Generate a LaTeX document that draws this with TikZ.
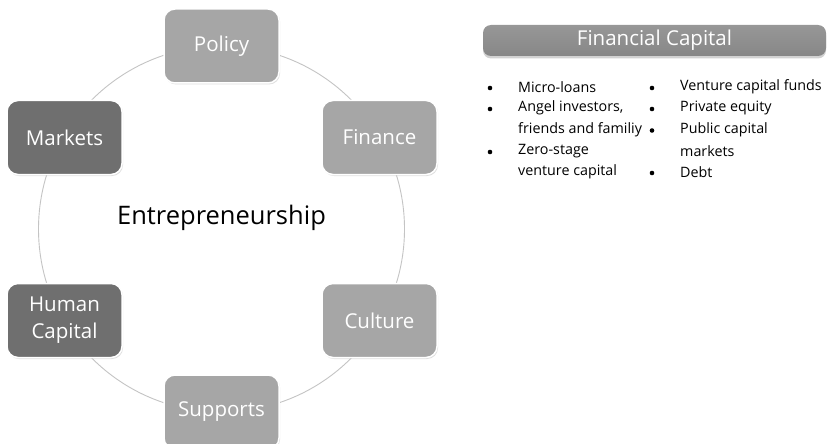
\documentclass[tikz,border=0pt]{standalone}
\usepackage{fontspec}
\setmainfont{Open Sans}
\usepackage{tikz}
\usetikzlibrary{shadows}
\usetikzlibrary{positioning}
\definecolor{lightgrey}{HTML}{A6A6A6}
\definecolor{darkgrey}{HTML}{6F6F6F}
\definecolor{ringgrey}{HTML}{C4C4C4}
\definecolor{bargrey}{HTML}{8E8E8E}
\tikzset{
    pillar/.style={rounded corners=11pt, minimum width=115pt, minimum height=74pt,
        draw=white, line width=1.5pt, text=white, align=center,
        font=\fontsize{20.5}{25}\selectfont,
        drop shadow={opacity=0.25, shadow xshift=1pt, shadow yshift=-1.5pt}},
    lightpillar/.style={pillar, fill=lightgrey},
    darkpillar/.style={pillar, fill=darkgrey},
    ring/.style={draw=ringgrey, line width=0.9pt},
    titlebar/.style={rounded corners=8pt, minimum width=343pt, minimum height=31pt,
        top color=bargrey!92!white, bottom color=bargrey!95!black, text=white,
        font=\fontsize{20.5}{24}\selectfont,
        drop shadow={opacity=0.35, shadow xshift=0pt, shadow yshift=-2.5pt}},
    item/.style={anchor=west, inner sep=0pt, font=\fontsize{14.3}{17}\selectfont},
    dot/.style={circle, fill=black, inner sep=0pt, minimum size=4.6pt}
}
\begin{document}
\begin{tikzpicture}[x=1pt,y=-1pt]
	\useasboundingbox[fill=white] (0,0) rectangle (831,444);
	\coordinate (ent) at (221.5,229);
	\draw[ring] (ent) circle (183);
	\node[font=\fontsize{25.5}{30}\selectfont] (core) at (221.5,218) {Entrepreneurship};
	\node[lightpillar] (policy) at (221.5,46) {Policy};
	\node[lightpillar] (finance) at (379.5,137.5) {Finance};
	\node[lightpillar] (culture) at (379.5,320.5) {Culture};
	\node[lightpillar] (supports) at (221.5,412) {Supports};
	\node[darkpillar] (humancap) at (64.5,320.5) {Human\\[2pt]Capital};
	\node[darkpillar] (markets) at (64.5,137.5) {Markets};
	\node[titlebar] (fincap) at (654.5,40.5) {Financial Capital};
	% first column
	\node[dot] (d1) at (490,88) {};
	\node[item] (l1) at (518,87) {Micro-loans};
	\node[dot] (d2) at (490,109) {};
	\node[item] (l2) at (518,108) {Angel investors,};
	\node[item] (l3) at (518,129.5) {friends and familiy};
	\node[dot] (d3) at (490,152) {};
	\node[item] (l4) at (518,151) {Zero-stage};
	\node[item] (l5) at (518,172) {venture capital};
	% second column
	\node[dot] (d4) at (652,88) {};
	\node[item] (r1) at (680,87) {Venture capital funds};
	\node[dot] (d5) at (652,109) {};
	\node[item] (r2) at (680,108) {Private equity};
	\node[dot] (d6) at (652,130.5) {};
	\node[item] (r3) at (680,129.5) {Public capital};
	\node[item] (r4) at (680,151) {markets};
	\node[dot] (d7) at (652,173) {};
	\node[item] (r5) at (680,172) {Debt};
\end{tikzpicture}
\end{document}
